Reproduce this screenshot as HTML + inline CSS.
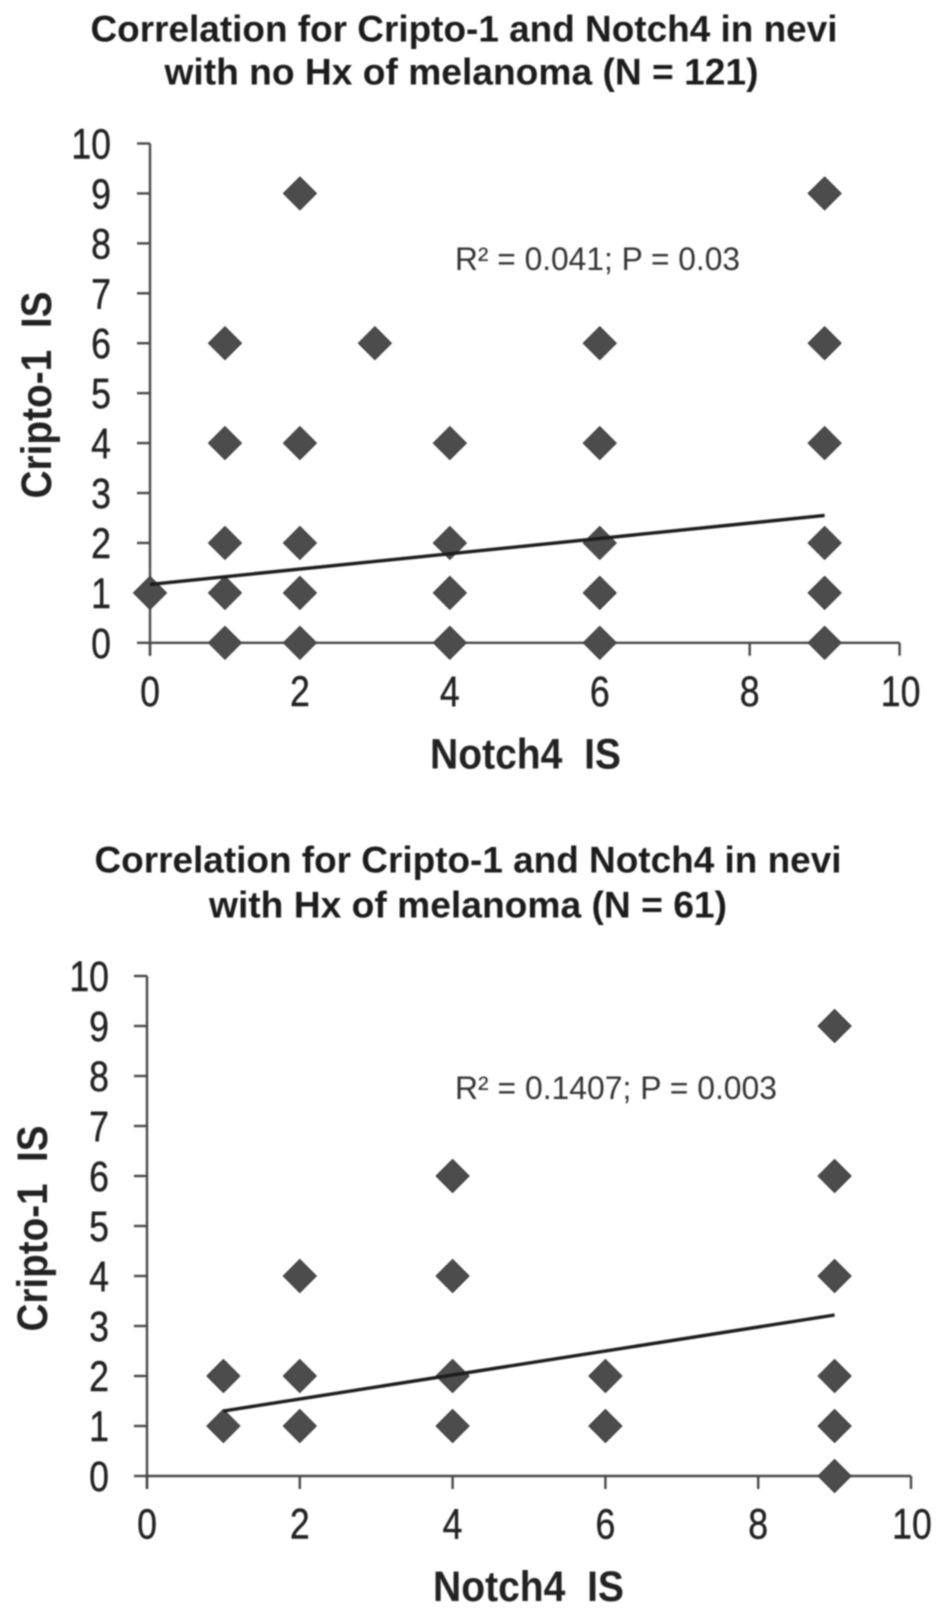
<!DOCTYPE html>
<html>
<head>
<meta charset="utf-8">
<title>Correlation for Cripto-1 and Notch4 in nevi</title>
<style>
html,body{margin:0;padding:0;background:#fff;width:945px;height:1615px;overflow:hidden}
svg{display:block;filter:blur(.7px)}
text{font-family:"Liberation Sans",sans-serif}
.title{font-weight:bold;font-size:37px;fill:#1c1c1c;text-anchor:middle}
.axis-title{font-weight:bold;font-size:43px;fill:#222;text-anchor:middle}
.note{font-size:32px;fill:#333}
.tick-label{font-size:43px;fill:#222;stroke:#222;stroke-width:.4px}
</style>
</head>
<body>
<svg id="fig" width="945" height="1615" viewBox="0 0 945 1615" xmlns="http://www.w3.org/2000/svg">
  <g id="chart-top">
    <text class="title" x="464" y="41.5" textLength="747" lengthAdjust="spacingAndGlyphs">Correlation for Cripto-1 and Notch4 in nevi</text>
    <text class="title" x="461.5" y="84.5" textLength="594" lengthAdjust="spacingAndGlyphs">with no Hx of melanoma (N = 121)</text>
    <text class="note" x="455" y="270" textLength="285" lengthAdjust="spacingAndGlyphs">R² = 0.041; P = 0.03</text>
    <text class="axis-title" x="525.5" y="768.5" textLength="191" lengthAdjust="spacingAndGlyphs">Notch4&#160;&#160;IS</text>
    <text class="axis-title" transform="translate(51 395) rotate(-90)" textLength="207" lengthAdjust="spacingAndGlyphs">Cripto-1&#160;&#160;IS</text>
  </g>
  <g id="chart-bottom">
    <text class="title" x="468" y="872.5" textLength="747" lengthAdjust="spacingAndGlyphs">Correlation for Cripto-1 and Notch4 in nevi</text>
    <text class="title" x="468" y="917.5" textLength="518" lengthAdjust="spacingAndGlyphs">with Hx of melanoma (N = 61)</text>
    <text class="note" x="455" y="1099" textLength="322" lengthAdjust="spacingAndGlyphs">R² = 0.1407; P = 0.003</text>
    <text class="axis-title" x="528.5" y="1601" textLength="191" lengthAdjust="spacingAndGlyphs">Notch4&#160;&#160;IS</text>
    <text class="axis-title" transform="translate(47 1228.5) rotate(-90)" textLength="206" lengthAdjust="spacingAndGlyphs">Cripto-1&#160;&#160;IS</text>
  </g>
</svg>
<script>
const xTickValues = [0, 2, 4, 6, 8, 10];
const yTickValues = [0, 1, 2, 3, 4, 5, 6, 7, 8, 9, 10];

const topNotch4 = [0, 1, 1, 1, 1, 1, 2, 2, 2, 2, 2, 3, 4, 4, 4, 4, 6, 6, 6, 6, 6, 9, 9, 9, 9, 9, 9];
const topCripto = [1, 0, 1, 2, 4, 6, 0, 1, 2, 4, 9, 6, 0, 1, 2, 4, 0, 1, 2, 4, 6, 0, 1, 2, 4, 6, 9];
const topTrendX = [0, 9];
const topTrendY = [1.17, 2.55];

const bottomNotch4 = [1, 1, 2, 2, 2, 4, 4, 4, 4, 6, 6, 9, 9, 9, 9, 9, 9];
const bottomCripto = [1, 2, 1, 2, 4, 1, 2, 4, 6, 1, 2, 0, 1, 2, 4, 6, 9];
const bottomTrendX = [1, 9];
const bottomTrendY = [1.3, 3.22];

const NS = 'http://www.w3.org/2000/svg';

function drawChart(group, frame, xs, ys, trendX, trendY) {
  const xScale = v => frame.x0 + (v / 10) * (frame.x10 - frame.x0);
  const yScale = v => frame.y0 + (v / 10) * (frame.y10 - frame.y0);

  function line(x1, y1, x2, y2, stroke, width) {
    const l = document.createElementNS(NS, 'line');
    l.setAttribute('x1', x1);
    l.setAttribute('y1', y1);
    l.setAttribute('x2', x2);
    l.setAttribute('y2', y2);
    l.setAttribute('stroke', stroke);
    l.setAttribute('stroke-width', width);
    group.appendChild(l);
    return l;
  }

  function tickLabel(text, x, y, anchor) {
    const t = document.createElementNS(NS, 'text');
    t.setAttribute('class', 'tick-label');
    t.setAttribute('text-anchor', anchor);
    t.setAttribute('transform', 'translate(' + x + ' ' + y + ') scale(.83 1)');
    t.textContent = text;
    group.appendChild(t);
    return t;
  }

  const xAxis = line(xScale(0), yScale(0), xScale(10), yScale(0), '#484848', 2.4);
  
  
  const yAxis = line(xScale(0), yScale(0) + 13, xScale(0), yScale(10), '#484848', 2.4);
  
  

  xTickValues.forEach(v => {
    const tick = line(xScale(v), yScale(0), xScale(v), yScale(0) + 13, '#484848', 2.4);
    
    
    const label = tickLabel(String(v), xScale(v) + (v === 10 ? 1 : 0), frame.xLabelY, 'middle');
    
    
  });

  yTickValues.forEach(v => {
    const tick = line(xScale(0) - 13, yScale(v), xScale(0), yScale(v), '#484848', 2.4);
    
    
    const label = tickLabel(String(v), frame.yLabelX, yScale(v) + 15, 'end');
    
    
  });

  xs.forEach((xv, i) => {
    const cx = xScale(xv);
    const cy = yScale(ys[i]);
    const p = document.createElementNS(NS, 'polygon');
    p.setAttribute('points', [[cx, cy - 16.5], [cx + 16.5, cy], [cx, cy + 16.5], [cx - 16.5, cy]].join(' '));
    p.setAttribute('fill', '#4c4c4c');
    p.setAttribute('stroke', '#383838');
    p.setAttribute('stroke-width', '1');
    
    
    group.appendChild(p);
  });

  const trend = line(xScale(trendX[0]), yScale(trendY[0]), xScale(trendX[1]), yScale(trendY[1]), '#1c1c1c', 3.4);
  
  
}

drawChart(document.getElementById('chart-top'),
  { x0: 150, x10: 899.6, y0: 642.8, y10: 143.5, xLabelY: 706, yLabelX: 111 },
  topNotch4, topCripto, topTrendX, topTrendY);
drawChart(document.getElementById('chart-bottom'),
  { x0: 147, x10: 911, y0: 1476, y10: 976, xLabelY: 1538.5, yLabelX: 109 },
  bottomNotch4, bottomCripto, bottomTrendX, bottomTrendY);
</script>
</body>
</html>
